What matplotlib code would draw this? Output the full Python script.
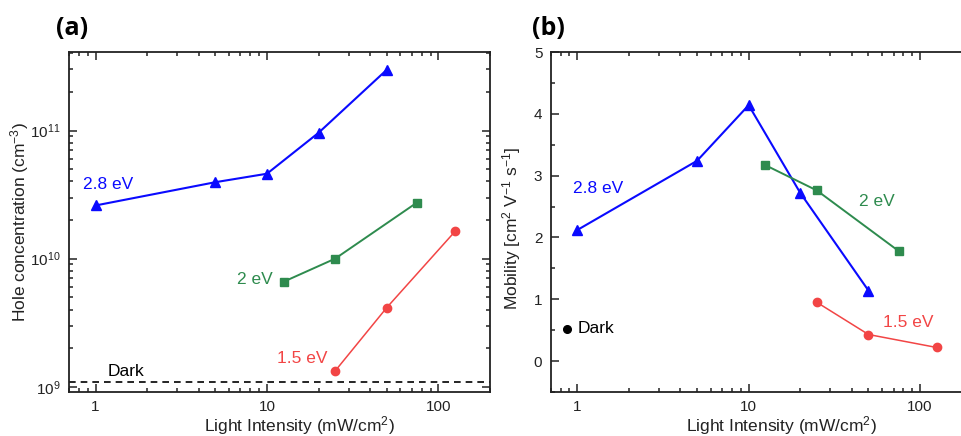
import matplotlib.pyplot as plt
import numpy as np
from matplotlib.ticker import LogLocator, MultipleLocator, NullFormatter

plt.rcParams['font.family'] = ['Liberation Sans', 'DejaVu Sans']
plt.rcParams['mathtext.default'] = 'regular'

# light intensity (mW/cm2) for each photon energy
x_28 = [1, 5, 10, 20, 50]
x_20 = [12.5, 25, 75]
x_15 = [25, 50, 125]

# (a) hole concentration (cm^-3)
p_28 = [2.6e10, 3.95e10, 4.6e10, 9.6e10, 2.98e11]
p_20 = [6.6e9, 1.0e10, 2.74e10]
p_15 = [1.33e9, 4.15e9, 1.63e10]
p_dark = 1.09e9

# (b) mobility (cm2 V-1 s-1)
mu_28 = [2.12, 3.24, 4.14, 2.72, 1.14]
mu_20 = [3.17, 2.76, 1.78]
mu_15 = [0.95, 0.43, 0.22]
x_dark = 0.87
mu_dark = 0.52

blue = '#0a0aff'
green = '#2e8b4e'
red = '#f24545'

fig = plt.figure(figsize=(9.62, 4.36), dpi=100)
ax1 = fig.add_axes([69/962, 1-392/436, 421/962, 340/436])
ax2 = fig.add_axes([550.7/962, 1-392/436, 421/962, 340/436])

for ax in (ax1, ax2):
    ax.set_xscale('log')
    ax.set_xlim(0.7, 200)
    ax.xaxis.set_minor_locator(LogLocator(base=10, subs=np.arange(2, 10), numticks=10))
    ax.xaxis.set_minor_formatter(NullFormatter())
    ax.set_xticks([1, 10, 100])
    ax.set_xticklabels(['1', '10', '100'])
    ax.tick_params(which='both', direction='in', top=True, right=True,
                   labelsize=11, width=1.1, color='#222222', labelcolor='#222222', pad=6)
    ax.tick_params(which='major', length=6)
    ax.tick_params(which='minor', length=3)
    for s in ax.spines.values():
        s.set_linewidth(1.3)
        s.set_color('#222222')
    ax.set_xlabel('Light Intensity (mW/cm$^2$)', fontsize=12.5, color='#222222')
    ax.xaxis.set_label_coords(0.548, -0.064)

# (a)
ax1.set_yscale('log')
ax1.set_ylim(9.1e8, 4.1e11)
ax1.yaxis.set_minor_formatter(NullFormatter())
ax1.plot(x_28, p_28, '-^', color=blue, ms=7.5, lw=1.5)
ax1.plot(x_20, p_20, '-s', color=green, ms=6, lw=1.4)
ax1.plot(x_15, p_15, '-o', color=red, ms=6, lw=1.1)
ax1.axhline(p_dark, color='black', ls=(0, (4, 3)), lw=1.2)
ax1.text(0.85, 3.8e10, '2.8 eV', color=blue, fontsize=12.5, va='center', ha='left')
ax1.text(10.8, 6.9e9, '2 eV', color=green, fontsize=12.5, va='center', ha='right')
ax1.text(22.4, 1.67e9, '1.5 eV', color=red, fontsize=12.5, va='center', ha='right')
ax1.text(1.18, 1.31e9, 'Dark', color='black', fontsize=12.5, va='center', ha='left')
ax1.set_ylabel('Hole concentration (cm$^{-3}$)', fontsize=12.5, color='#222222')
ax1.yaxis.set_label_coords(-0.09, 0.5)
fig.text(56/962, 1-28/436, '(a)', fontsize=18, fontweight='bold',
         family='Open Sans', va='center', ha='left')

# (b)
ax2.set_ylim(-0.5, 5)
ax2.yaxis.set_major_locator(MultipleLocator(1))
ax2.yaxis.set_minor_locator(MultipleLocator(0.5))
ax2.plot(x_28, mu_28, '-^', color=blue, ms=7.5, lw=1.5)
ax2.plot(x_20, mu_20, '-s', color=green, ms=6, lw=1.4)
ax2.plot(x_15, mu_15, '-o', color=red, ms=6, lw=1.1)
ax2.plot([x_dark], [mu_dark], 'o', color='black', ms=5.5)
ax2.text(0.95, 2.79, '2.8 eV', color=blue, fontsize=12.5, va='center', ha='left')
ax2.text(44, 2.575, '2 eV', color=green, fontsize=12.5, va='center', ha='left')
ax2.text(61, 0.63, '1.5 eV', color=red, fontsize=12.5, va='center', ha='left')
ax2.text(1.0, 0.52, 'Dark', color='black', fontsize=12.5, va='center', ha='left')
ax2.set_ylabel('Mobility [cm$^2$ V$^{-1}$ s$^{-1}$]', fontsize=12.5, color='#222222')
ax2.yaxis.set_label_coords(-0.066, 0.482)
fig.text(532/962, 1-28/436, '(b)', fontsize=18, fontweight='bold',
         family='Open Sans', va='center', ha='left')

fig.savefig('out.png', dpi=100)
